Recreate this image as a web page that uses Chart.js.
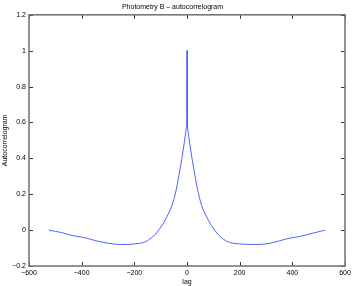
<!DOCTYPE html>
<html>
<head>
<meta charset="utf-8">
<script src="https://cdn.jsdelivr.net/npm/chart.js@4"></script>
<style>
  html, body { margin: 0; padding: 0; background: #fff; }
  #wrap { width: 354px; height: 286px; }
</style>
</head>
<body>
<div id="wrap"><canvas id="c"></canvas></div>
<script>
const lags = [
  -525, -500, -475, -450, -425, -400, -375, -350, -325, -300, -275, -250, -225, -200,
  -180, -165, -150, -135, -120, -105, -90, -75, -60, -50, -40, -30, -20, -10, -5, -2, -1,
  0,
  1, 2, 5, 10, 20, 30, 40, 50, 60, 75, 90, 105, 120, 135, 150, 165, 180,
  200, 225, 250, 275, 300, 325, 350, 375, 400, 425, 450, 475, 500, 525
];
const acf = [
  0.0, -0.007, -0.014, -0.025, -0.033, -0.039, -0.047, -0.058, -0.066, -0.073, -0.078, -0.080, -0.080, -0.077,
  -0.074, -0.069, -0.059, -0.043, -0.024, 0.005, 0.037, 0.078, 0.125, 0.17, 0.23, 0.31, 0.395, 0.49, 0.545, 0.58, 0.78,
  1.0,
  0.77, 0.58, 0.54, 0.485, 0.39, 0.305, 0.225, 0.165, 0.118, 0.072, 0.032, 0.0, -0.028, -0.047, -0.062, -0.070, -0.074,
  -0.077, -0.079, -0.080, -0.080, -0.077, -0.070, -0.060, -0.050, -0.042, -0.036, -0.028, -0.018, -0.009, 0.0
];
const xTicks = [-600, -400, -200, 0, 200, 400, 600];
const yTicks = [-0.2, 0, 0.2, 0.4, 0.6, 0.8, 1, 1.2];

const points = lags.map((l, i) => ({ x: l, y: acf[i] }));
const fmt = v => String(Math.round(v * 10) / 10).replace('-', '\u2212');

// matlab-ish box with inward ticks
const boxTicks = {
  id: 'boxTicks',
  afterDraw(chart) {
    const { ctx, chartArea: a, scales } = chart;
    ctx.save();
    ctx.strokeStyle = '#333';
    ctx.lineWidth = 1;
    ctx.beginPath();
    xTicks.forEach(v => {
      const px = Math.round(scales.x.getPixelForValue(v)) + 0.5;
      ctx.moveTo(px, a.bottom); ctx.lineTo(px, a.bottom - 4);
      ctx.moveTo(px, a.top); ctx.lineTo(px, a.top + 4);
    });
    yTicks.forEach(v => {
      const py = Math.round(scales.y.getPixelForValue(v)) + 0.5;
      ctx.moveTo(a.left, py); ctx.lineTo(a.left + 4, py);
      ctx.moveTo(a.right, py); ctx.lineTo(a.right - 4, py);
    });
    ctx.stroke();
    ctx.strokeStyle = '#777';
    ctx.lineWidth = 1.6;
    ctx.strokeRect(a.left, a.top, a.right - a.left, a.bottom - a.top);
    ctx.restore();
  }
};

new Chart(document.getElementById('c'), {
  type: 'scatter',
  data: {
    datasets: [{
      data: points,
      showLine: true,
      borderColor: 'rgb(80,100,255)',
      borderWidth: 1,
      borderJoinStyle: 'round',
      pointRadius: 0,
      tension: 0
    }]
  },
  options: {
    responsive: true,
    maintainAspectRatio: false,
    animation: false,
    layout: { padding: { left: 0, right: 9, top: 0, bottom: 0 } },
    plugins: {
      legend: { display: false },
      tooltip: { enabled: false },
      title: {
        display: true,
        text: 'Photometry B \u2013 autocorrelogram',
        color: '#000',
        font: { family: 'Liberation Sans', size: 7, weight: 'normal' },
        padding: { top: 3, bottom: 3.4 }
      }
    },
    scales: {
      x: {
        type: 'linear',
        min: -600, max: 600,
        afterBuildTicks: s => { s.ticks = xTicks.map(v => ({ value: v })); },
        afterFit: s => { s.height = 20; },
        grid: { display: false, drawTicks: false },
        border: { display: false },
        ticks: { callback: fmt, color: '#000', padding: 3, maxRotation: 0, autoSkip: false,
                 font: { family: 'Liberation Sans', size: 7 } },
        title: { display: true, text: 'lag', color: '#000', padding: 0,
                 font: { family: 'Liberation Sans', size: 7 } }
      },
      y: {
        min: -0.2, max: 1.2,
        afterBuildTicks: s => { s.ticks = yTicks.map(v => ({ value: v })); },
        afterFit: s => { s.width = 29; },
        grid: { display: false, drawTicks: false },
        border: { display: false },
        ticks: { callback: fmt, color: '#000', padding: 3, autoSkip: false,
                 font: { family: 'Liberation Sans', size: 7 } },
        title: { display: true, text: 'Autocorrelogram', color: '#000', padding: { top: 1, bottom: 0 },
                 font: { family: 'Liberation Sans', size: 7 } }
      }
    }
  },
  plugins: [boxTicks]
});
</script>
</body>
</html>
